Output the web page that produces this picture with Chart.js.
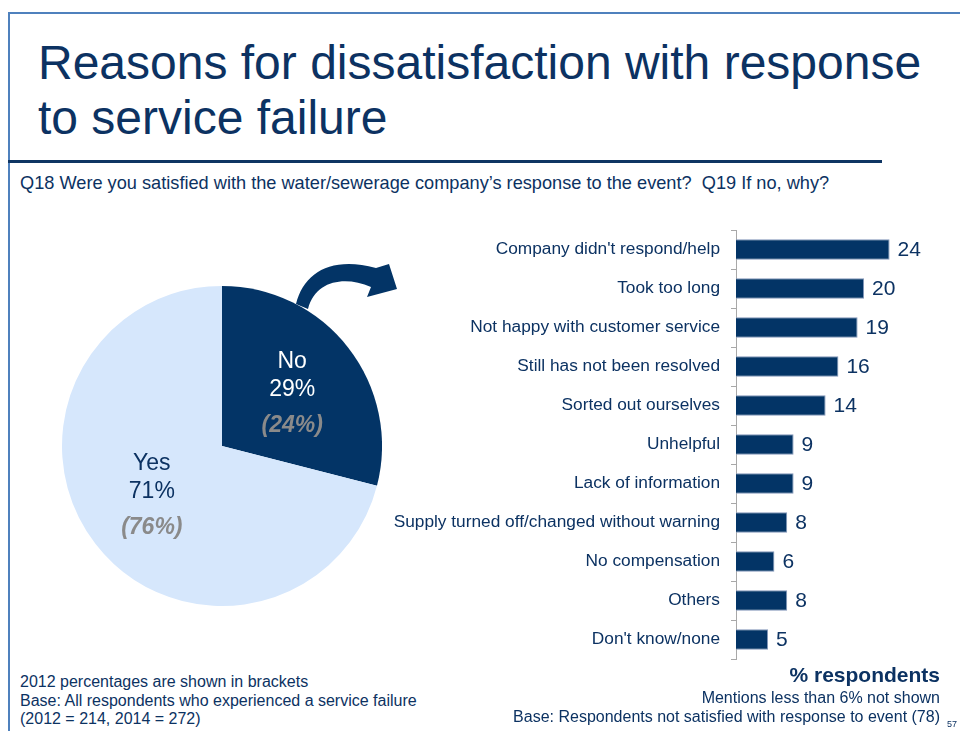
<!DOCTYPE html>
<html>
<head>
<meta charset="utf-8">
<script src="https://cdn.jsdelivr.net/npm/chart.js@4"></script>
<style>
  body { margin: 0; width: 960px; height: 731px; background: #fff; position: relative; overflow: hidden;
         font-family: "Liberation Sans", Arial, sans-serif; color: #0c3262; }
  .txt { position: absolute; white-space: nowrap; line-height: 1; }
  .rule { position: absolute; }
  canvas { position: absolute; }
</style>
</head>
<body>
<div class="rule" style="left:8px;top:12px;width:952px;height:2px;background:#4f81bd;"></div>
<div class="rule" style="left:8px;top:12px;width:2px;height:719px;background:#4f81bd;"></div>
<div class="rule" style="left:8px;top:160px;width:874px;height:3px;background:#0f3563;"></div>

<div class="txt" style="left:38px;top:39px;font-size:48px;">Reasons for dissatisfaction with response</div>
<div class="txt" style="left:38px;top:94px;font-size:48px;">to service failure</div>
<div class="txt" style="left:20px;top:174px;font-size:18.2px;">Q18 Were you satisfied with the water/sewerage company’s response to the event?&nbsp; Q19 If no, why?</div>

<canvas id="chart_pie" width="364" height="432" style="left:40px;top:230px;"></canvas>
<canvas id="chart_reasons" width="580" height="437" style="left:380px;top:226px;"></canvas>

<div class="txt" style="left:20px;top:674px;font-size:16px;">2012 percentages are shown in brackets</div>
<div class="txt" style="left:20px;top:693px;font-size:16px;">Base: All respondents who experienced a service failure</div>
<div class="txt" style="left:20px;top:711px;font-size:16px;">(2012 = 214, 2014 = 272)</div>

<div class="txt" style="right:20px;top:664px;font-size:21px;font-weight:bold;">% respondents</div>
<div class="txt" style="right:20px;top:690px;font-size:16px;">Mentions less than 6% not shown</div>
<div class="txt" style="right:20px;top:709px;font-size:16px;">Base: Respondents not satisfied with response to event (78)</div>
<div class="txt" style="left:947px;top:720px;font-size:9px;">57</div>

<script>
// Q18 satisfied with response (2014, with 2012 in brackets)
var satisfiedLabels = ['No', 'Yes'];
var satisfied2014 = [29, 71];
var satisfied2012 = [24, 76];

// Q19 reasons for not being satisfied, % respondents
var reasonLabels = [
  "Company didn't respond/help",
  'Took too long',
  'Not happy with customer service',
  'Still has not been resolved',
  'Sorted out ourselves',
  'Unhelpful',
  'Lack of information',
  'Supply turned off/changed without warning',
  'No compensation',
  'Others',
  "Don't know/none"
];
var reasonValues = [24, 20, 19, 16, 14, 9, 9, 8, 6, 8, 5];

var navy = '#033466';
var textNavy = '#0c3262';
var lightBlue = '#d6e7fc';
var bracketGrey = '#8a8a8a';
var font = '"Liberation Sans", Arial, sans-serif';

// slice captions: name, 2014 share, 2012 share in brackets
var pieLabelsPlugin = {
  id: 'pieLabels',
  afterDatasetsDraw: function(chart) {
    var ctx = chart.ctx;
    var arcs = chart.getDatasetMeta(0).data;
    var nudge = [0, -6];
    ctx.save();
    ctx.textAlign = 'center';
    ctx.textBaseline = 'alphabetic';
    for (let i = 0; i < arcs.length; i++) {
      var a = arcs[i];
      var mid = (a.startAngle + a.endAngle) / 2;
      var d = a.outerRadius * 0.555;
      var x = a.x + Math.cos(mid) * d;
      var y = a.y + Math.sin(mid) * d + nudge[i];
      ctx.fillStyle = i === 0 ? '#ffffff' : textNavy;
      ctx.font = '23px ' + font;
      ctx.fillText(satisfiedLabels[i], x, y - 24);
      ctx.fillText(satisfied2014[i] + '%', x, y + 4);
      ctx.fillStyle = bracketGrey;
      ctx.font = 'italic bold 23px ' + font;
      ctx.fillText('(' + satisfied2012[i] + '%)', x, y + 40);
    }
    ctx.restore();
  }
};

// curved arrow leading from the "No" slice over to the reasons
var arrowPlugin = {
  id: 'noArrow',
  afterDraw: function(chart) {
    var a = chart.getDatasetMeta(0).data[0];
    var ctx = chart.ctx;
    ctx.save();
    ctx.translate(a.x, a.y);
    ctx.fillStyle = navy;
    ctx.beginPath();
    ctx.moveTo(74, -142);
    ctx.bezierCurveTo(82, -174, 110, -190, 154, -178);
    ctx.lineTo(167, -182);
    ctx.lineTo(175, -157);
    ctx.lineTo(145, -149);
    ctx.lineTo(149, -159);
    ctx.bezierCurveTo(123, -170, 94, -166, 86, -137);
    ctx.closePath();
    ctx.fill();
    ctx.restore();
  }
};

new Chart(document.getElementById('chart_pie'), {
  type: 'pie',
  data: {
    labels: satisfiedLabels,
    datasets: [{
      data: satisfied2014,
      backgroundColor: [navy, lightBlue],
      borderWidth: 0,
      radius: 160
    }]
  },
  options: {
    responsive: false,
    animation: false,
    devicePixelRatio: 1,
    layout: { padding: 0 },
    plugins: {
      legend: { display: false },
      tooltip: { enabled: false }
    }
  },
  plugins: [pieLabelsPlugin, arrowPlugin]
});

// value printed just past the end of each bar
var barValuesPlugin = {
  id: 'barValues',
  afterDatasetsDraw: function(chart) {
    var ctx = chart.ctx;
    var bars = chart.getDatasetMeta(0).data;
    ctx.save();
    ctx.fillStyle = textNavy;
    ctx.font = '21px ' + font;
    ctx.textAlign = 'left';
    ctx.textBaseline = 'middle';
    for (let i = 0; i < bars.length; i++) {
      ctx.fillText(String(reasonValues[i]), bars[i].x + 8, bars[i].y + 1);
    }
    ctx.restore();
  }
};

new Chart(document.getElementById('chart_reasons'), {
  type: 'bar',
  data: {
    labels: reasonLabels,
    datasets: [{
      data: reasonValues,
      backgroundColor: navy,
      borderColor: '#8196b8',
      borderWidth: 1,
      barPercentage: 0.53,
      categoryPercentage: 1
    }]
  },
  options: {
    indexAxis: 'y',
    responsive: false,
    animation: false,
    devicePixelRatio: 1,
    layout: { padding: { top: 4, bottom: 4, left: 0, right: 0 } },
    scales: {
      x: {
        display: false,
        min: 0,
        max: 35
      },
      y: {
        afterFit: function(scale) {
          // fixed label column, and no extra room above/below for the labels
          scale.width = 356;
          scale.paddingTop = 0;
          scale.paddingBottom = 0;
        },
        grid: {
          drawOnChartArea: false,
          drawTicks: true,
          tickLength: 5,
          color: '#a8a8a8'
        },
        border: { display: true, color: '#a8a8a8', width: 1 },
        ticks: {
          padding: 11,
          color: textNavy,
          font: { family: font, size: 17.3 }
        }
      }
    },
    plugins: {
      legend: { display: false },
      tooltip: { enabled: false }
    }
  },
  plugins: [barValuesPlugin]
});
</script>
</body>
</html>
